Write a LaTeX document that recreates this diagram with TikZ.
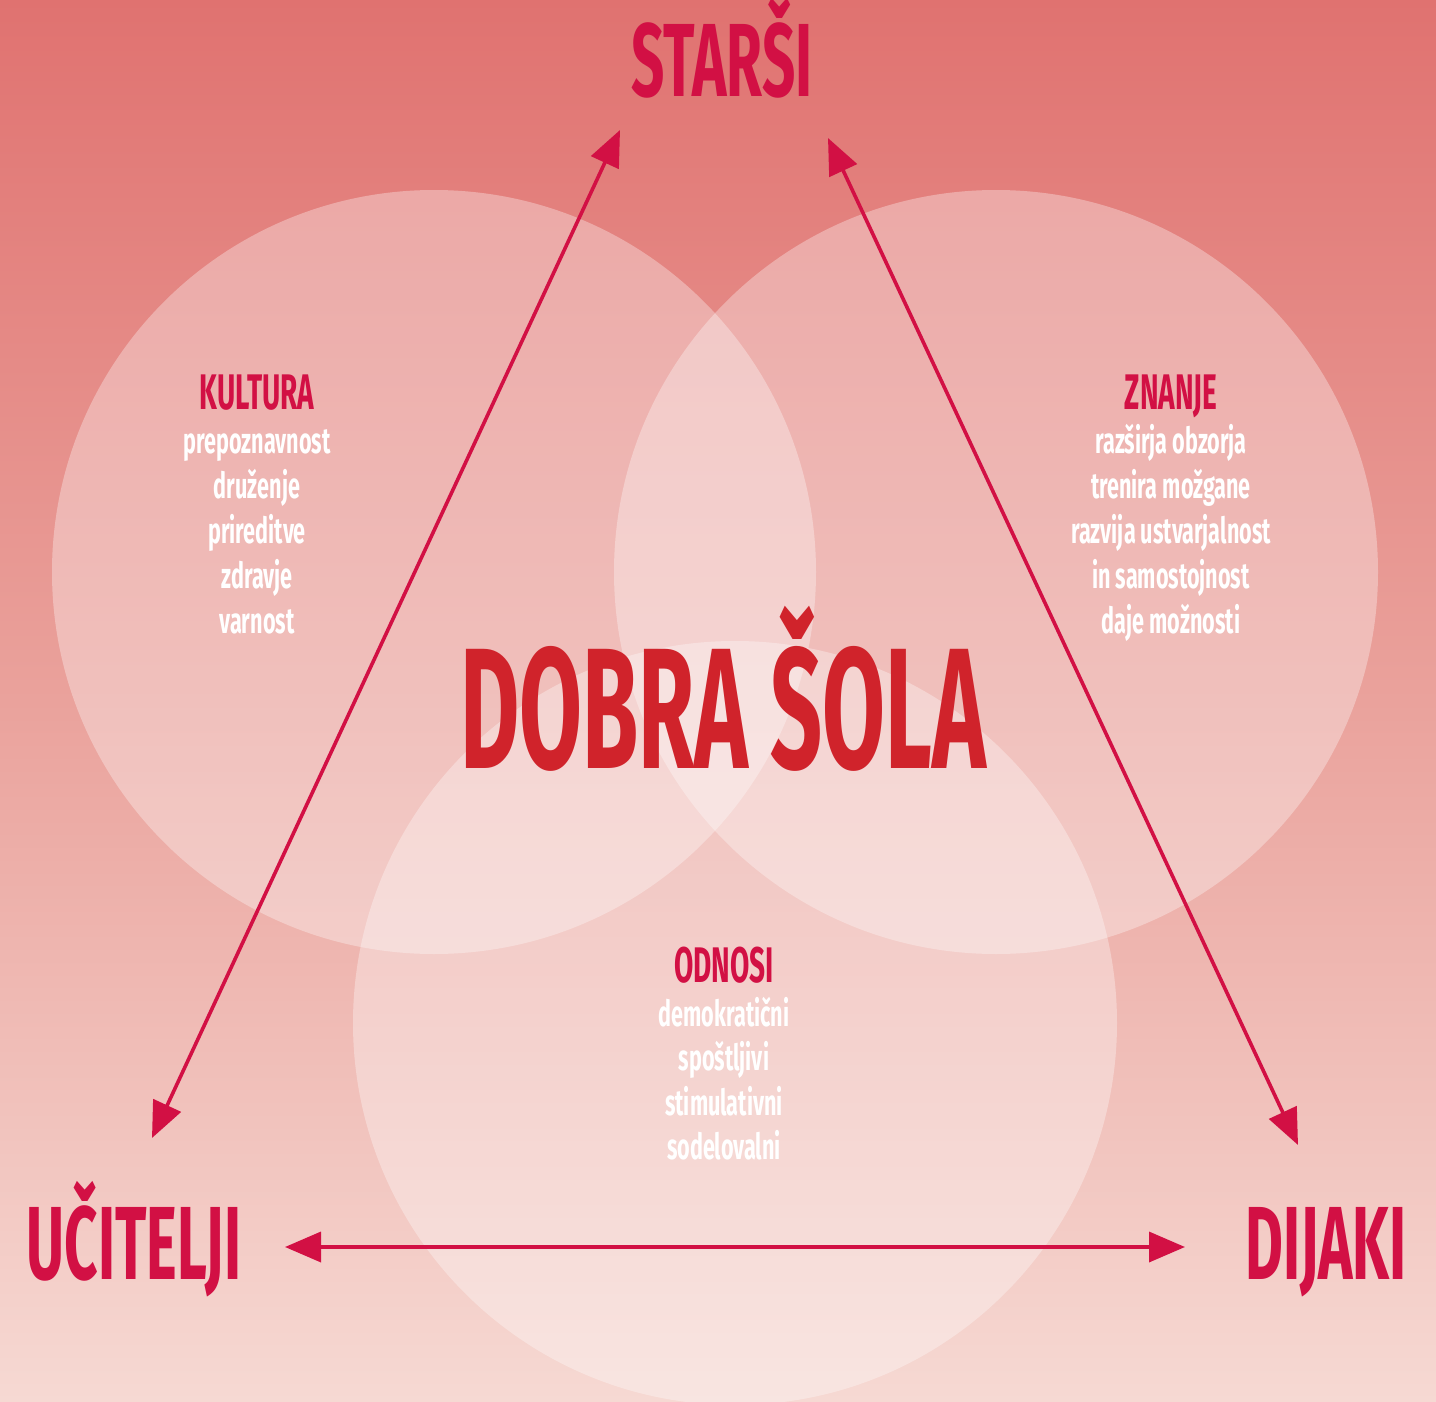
\documentclass[tikz,border=0pt]{standalone}
\usepackage{fontspec}
\usetikzlibrary{arrows.meta}
\newfontfamily\headfont[FakeStretch=0.56]{Fira Sans}
\newfontfamily\bigfont[FakeStretch=0.53]{Fira Sans}
\newfontfamily\itemfont[FakeStretch=0.6]{Fira Sans}
\definecolor{crimson}{HTML}{D21044}
\definecolor{schoolred}{HTML}{D0232B}
\definecolor{bgtop}{HTML}{E07270}
\definecolor{bgmid}{HTML}{EAA29C}
\definecolor{bgbot}{HTML}{F6D9D3}
\tikzset {>={Triangle[length=18pt,width=15pt]}}
\tikzset{
  corner/.style={font=\headfont\bfseries\fontsize{52}{52}\selectfont,text=crimson,anchor=base,inner sep=0pt},
  topic/.style={font=\headfont\bfseries\fontsize{25}{25}\selectfont,text=crimson,anchor=base,inner sep=0pt},
  itemtxt/.style={font=\itemfont\bfseries\fontsize{18}{18}\selectfont,text=white,anchor=base,inner sep=0pt},
  circ/.style={fill=white,fill opacity=0.33},
  link/.style={<->,draw=crimson,line width=1.8pt}
}

\begin{document}
\begin{tikzpicture}[x=0.5pt,y=-0.5pt]
\useasboundingbox (0,0) rectangle (1436,1402);
\shade[top color=bgtop,bottom color=bgbot,middle color=bgmid] (0,0) rectangle (1436,1402);

% three circles
\coordinate (CK) at (434,572);
\coordinate (CZ) at (996,572);
\coordinate (CO) at (735,1023);
\fill[circ] (CK) circle (382);
\fill[circ] (CZ) circle (382);
\fill[circ] (CO) circle (382);

% corners
\node[corner] (starsi) at (722,97) {STARŠI};
\node[corner] (ucitelji) at (134,1279) {UČITELJI};
\node[corner] (dijaki) at (1326,1279) {DIJAKI};
\node[corner,text=schoolred,font=\bigfont\bfseries\fontsize{86}{86}\selectfont]
  (sola) at (723,768) {DOBRA ŠOLA};

% topics
\node[topic] (kultura) at (257,409) {KULTURA};
\foreach \w [count=\i] in {prepoznavnost,druženje,prireditve,zdravje,varnost}
  \node[itemtxt] (k\i) at (257,{409+44.8*\i}) {\w};

\node[topic] (znanje) at (1171,409) {ZNANJE};
\foreach \w [count=\i] in {razširja obzorja,trenira možgane,razvija ustvarjalnost,in samostojnost,daje možnosti}
  \node[itemtxt] (z\i) at (1171,{409+44.8*\i}) {\w};

\node[topic] (odnosi) at (724,982) {ODNOSI};
\foreach \w [count=\i] in {demokratični,spoštljivi,stimulativni,sodelovalni}
  \node[itemtxt] (o\i) at (724,{982+44.4*\i}) {\w};

% arrows
\coordinate (SL) at (620,130);
\coordinate (SR) at (828,138);
\coordinate (UT) at (152,1138);
\coordinate (DT) at (1298,1145);
\coordinate (UR) at (285,1247);
\coordinate (DL) at (1185,1247);
\draw[link] (UT) -- (SL);
\draw[link] (SR) -- (DT);
\draw[link] (UR) -- (DL);

\end{tikzpicture}
\end{document}
